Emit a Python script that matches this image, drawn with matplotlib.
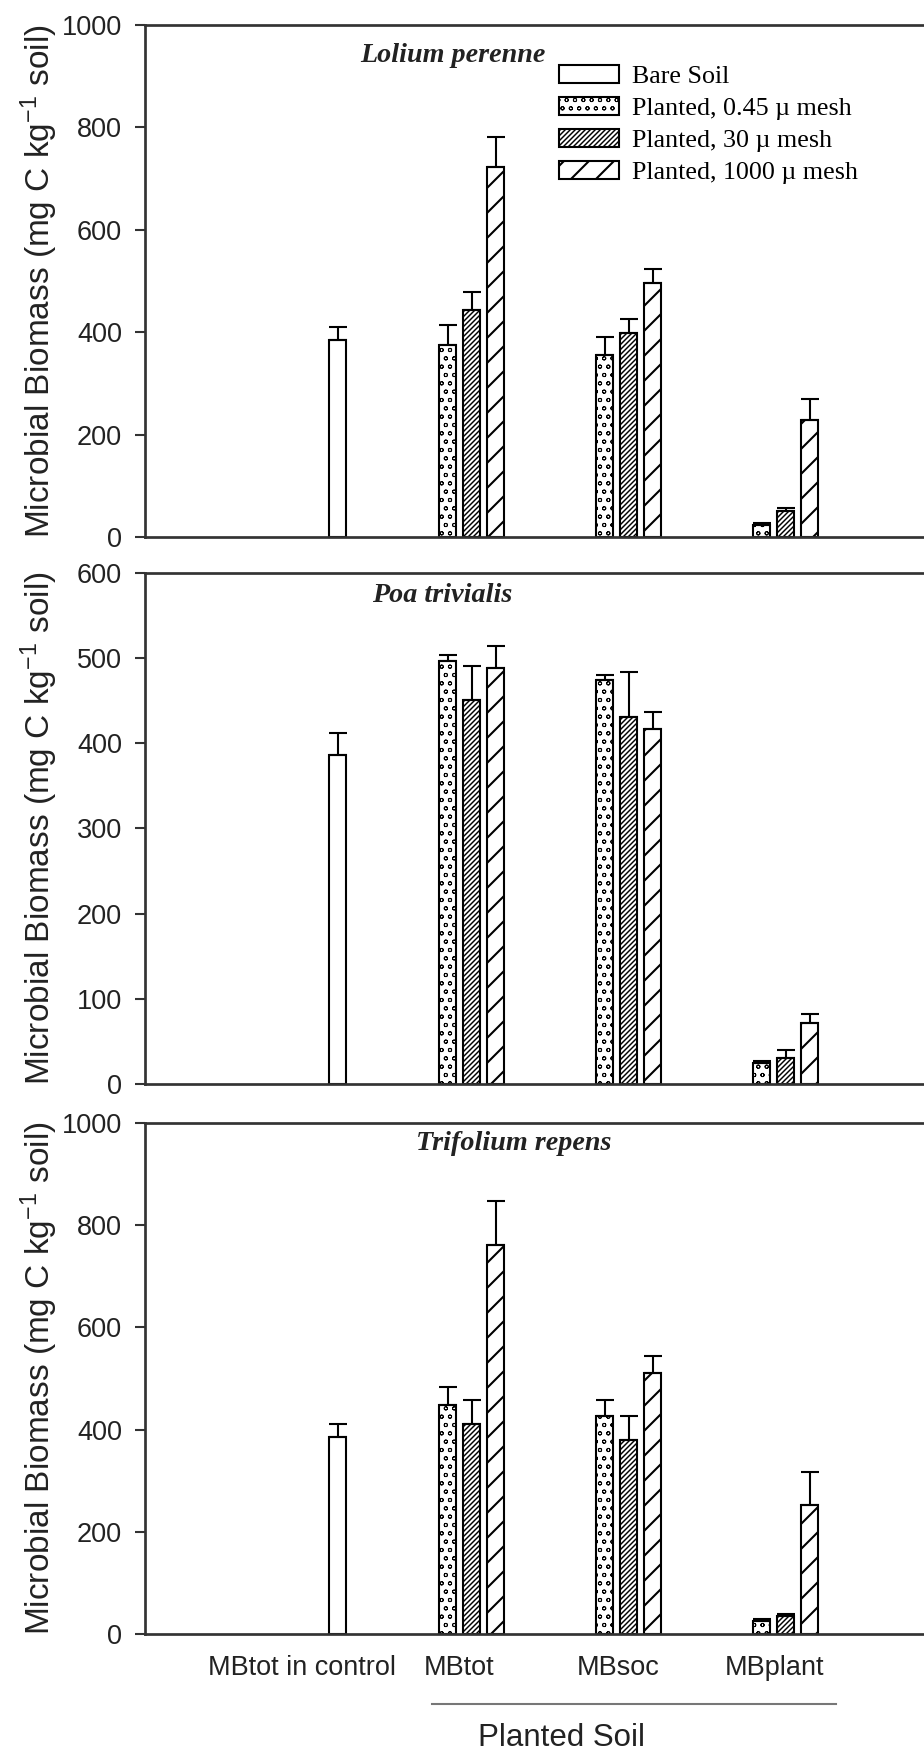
import numpy as np
import matplotlib.pyplot as plt

species = ["Lolium perenne", "Poa trivialis", "Trifolium repens"]
groups = ["MBtot", "MBsoc", "MBplant"]
control = "MBtot in control"
series = ["Bare Soil", "Planted, 0.45 \u00b5 mesh", "Planted, 30 \u00b5 mesh",
          "Planted, 1000 \u00b5 mesh"]

# bare soil control, one per panel
bare = [386, 386, 386]
bare_err = [24, 26, 26]

# planted soil values: MBtot, MBsoc, MBplant
lolium_045 = [375, 355, 25]
lolium_045_err = [40, 36, 3]
lolium_30 = [444, 399, 52]
lolium_30_err = [34, 28, 5]
lolium_1000 = [722, 496, 229]
lolium_1000_err = [59, 27, 42]

poa_045 = [496, 474, 25]
poa_045_err = [7, 6, 2]
poa_30 = [451, 431, 31]
poa_30_err = [40, 52, 9]
poa_1000 = [488, 416, 72]
poa_1000_err = [26, 21, 10]

trifolium_045 = [449, 426, 27]
trifolium_045_err = [35, 31, 3]
trifolium_30 = [412, 380, 35]
trifolium_30_err = [46, 46, 5]
trifolium_1000 = [761, 511, 252]
trifolium_1000_err = [86, 32, 65]

ymax = [1000, 600, 1000]
ystep = [200, 100, 200]

planted = [
    [(lolium_045, lolium_045_err), (lolium_30, lolium_30_err), (lolium_1000, lolium_1000_err)],
    [(poa_045, poa_045_err), (poa_30, poa_30_err), (poa_1000, poa_1000_err)],
    [(trifolium_045, trifolium_045_err), (trifolium_30, trifolium_30_err),
     (trifolium_1000, trifolium_1000_err)],
]

plt.rcParams['font.family'] = ['Liberation Sans', 'DejaVu Sans']
plt.rcParams['mathtext.default'] = 'regular'
plt.rcParams['hatch.linewidth'] = 0.7

# layout (x axis is in pixel-like units)
ctrl_x = 338
grp_x = np.array([472, 629, 786])
slot = 24
bw = 17
hatches = [("", 1.0), ("ooo", 0.45), ("//////////", 0.7), ("//", 1.0)]
title_pos = [(0.276, 0.94), (0.291, 0.956), (0.348, 0.959)]


def draw_bars(ax, x, vals, errs, hatch, hlw):
    with plt.rc_context({'hatch.linewidth': hlw}):
        b = ax.bar(x, vals, bw, color='white', edgecolor='black',
                   linewidth=1.0, hatch=hatch, zorder=2)
    for p in b:
        if hasattr(p, 'set_hatch_linewidth'):
            p.set_hatch_linewidth(hlw)
    ax.errorbar(x, vals, yerr=[np.zeros(len(vals)), errs], fmt='none',
                ecolor='black', elinewidth=1.0, capsize=4.3, capthick=1.0,
                zorder=3)
    return b


fig = plt.figure(figsize=(924 / 150, 1754 / 150), dpi=150)
boxes = [[0.1569, 0.6936, 0.8431, 0.2922],
         [0.1569, 0.3820, 0.8431, 0.2915],
         [0.1569, 0.0682, 0.8431, 0.2918]]

axes = []
for i in range(3):
    ax = fig.add_axes(boxes[i])
    axes.append(ax)
    handles = []
    handles.append(draw_bars(ax, [ctrl_x], [bare[i]], [bare_err[i]], *hatches[0]))
    for k, (vals, errs) in enumerate(planted[i]):
        x = grp_x + (k - 1) * slot
        handles.append(draw_bars(ax, x, vals, errs, *hatches[k + 1]))

    ax.set_xlim(145, 924)
    ax.set_ylim(0, ymax[i])
    ax.set_yticks(np.arange(0, ymax[i] + 1, ystep[i]))
    ax.spines['right'].set_visible(False)
    for s in ['left', 'top', 'bottom']:
        ax.spines[s].set_linewidth(1.3)
        ax.spines[s].set_color('#333333')
    ax.tick_params(axis='y', direction='out', length=4.8, width=1.0,
                   pad=6.2, labelsize=13, colors='#333333', labelcolor='#222222')
    ax.set_ylabel(r'Microbial Biomass (mg C kg$^{-1}$ soil)', fontsize=16,
                  color='#222222')
    ax.yaxis.set_label_coords(-0.109, 0.5)
    ax.text(title_pos[i][0], title_pos[i][1], species[i], transform=ax.transAxes,
            ha='left', va='center', fontsize=13.5, fontweight='bold',
            fontstyle='italic', family='Liberation Serif', color='#222222')
    if i < 2:
        ax.set_xticks([])
    else:
        ax.set_xticks([302, 459, 618, 775], [control] + groups)
        ax.tick_params(axis='x', length=0, pad=10, labelsize=13,
                       labelcolor='#222222')

    if i == 0:
        leg = ax.legend(handles, series, loc='upper left',
                        bbox_to_anchor=(0.532, 0.922), frameon=False,
                        prop={'family': 'Liberation Serif', 'size': 12.5},
                        handlelength=2.3, handleheight=0.7, handletextpad=0.5,
                        labelspacing=0.34, borderpad=0, borderaxespad=0)
        for p, (h, hlw) in zip(leg.get_patches(), hatches):
            if hasattr(p, 'set_hatch_linewidth'):
                p.set_hatch_linewidth(hlw)

# "Planted Soil" bracket under the bottom panel
ax = axes[2]
ax.plot([432, 836], [-0.136, -0.136], transform=ax.get_xaxis_transform(),
        color='#777777', lw=1.0, clip_on=False)
ax.text(562, -0.2026, "Planted Soil", transform=ax.get_xaxis_transform(),
        ha='center', va='center', fontsize=15, color='#222222')

fig.savefig("out.png", dpi=150)
